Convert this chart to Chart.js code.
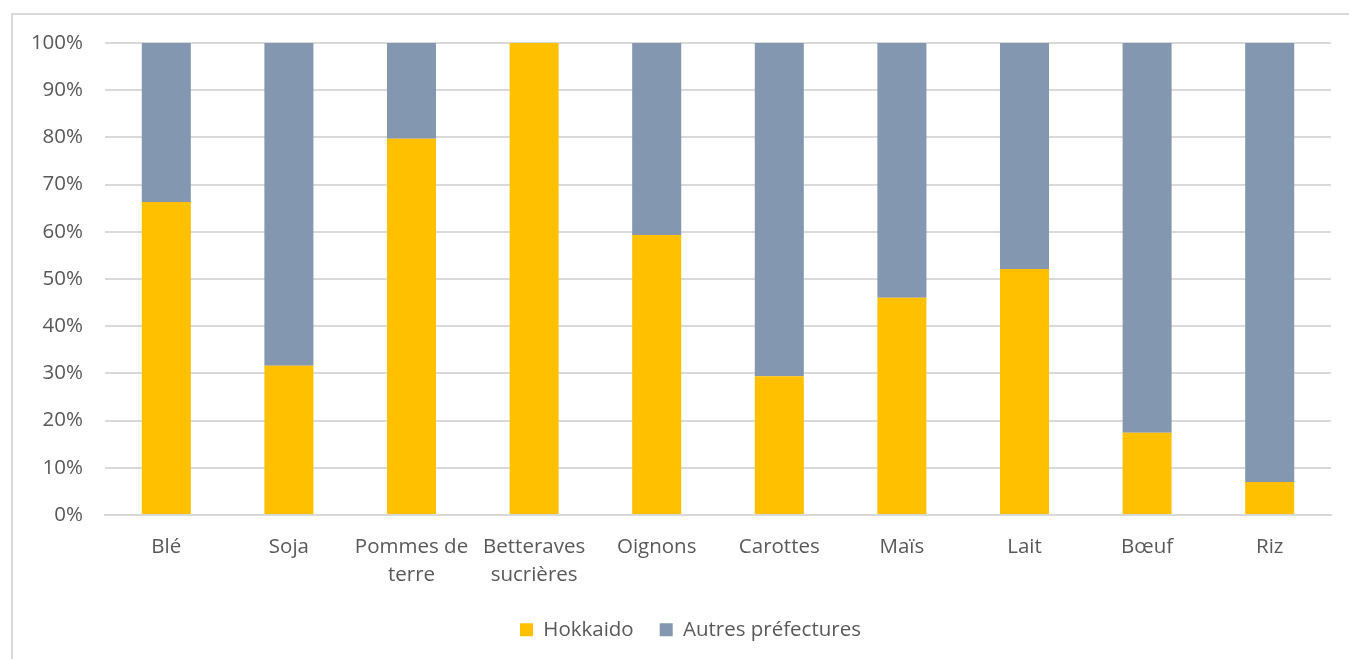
<!DOCTYPE html>
<html lang="fr">
<head>
<meta charset="UTF-8">
<title>Hokkaido - part de la production</title>
<script src="https://cdn.jsdelivr.net/npm/chart.js"></script>
<style>
  html, body { margin: 0; padding: 0; background: #fff; overflow: hidden; }
  #cadre {
    position: absolute; left: 11px; top: 13px; width: 1400px; height: 700px;
    border-left: 2px solid #d9d9d9; border-top: 2px solid #d9d9d9;
  }
  #zone { position: absolute; left: 0; top: 0; width: 1380px; height: 659px; }
</style>
</head>
<body>
<div id="cadre"></div>
<div id="zone"><canvas id="graphique"></canvas></div>
<script>
// Catégories (étiquettes sur deux lignes quand il le faut)
const produits = ['Blé', 'Soja', ['Pommes de', 'terre'], ['Betteraves', 'sucrières'],
  'Oignons', 'Carottes', 'Maïs', 'Lait', 'Bœuf', 'Riz'];

// Parts en %
const hokkaido = [66.3, 31.6, 79.7, 100, 59.3, 29.4, 46.0, 52.1, 17.4, 7.0];
const autres   = [33.7, 68.4, 20.3, 0, 40.7, 70.6, 54.0, 47.9, 82.6, 93.0];

const police = { family: "'Open Sans', sans-serif", size: 20.5, lineHeight: 1.38 };

// la légende d'Excel est centrée un peu plus à droite
const decalerLegende = {
  id: 'decalerLegende',
  afterLayout(chart) {
    chart.legend.left += 25;
    chart.legend.right += 25;
  }
};

new Chart(document.getElementById('graphique'), {
  type: 'bar',
  data: {
    labels: produits,
    datasets: [
      { label: 'Hokkaido', data: hokkaido, backgroundColor: '#FFC000' },
      { label: 'Autres préfectures', data: autres, backgroundColor: '#8497B0' }
    ]
  },
  options: {
    responsive: true,
    maintainAspectRatio: false,
    animation: false,
    datasets: { bar: { categoryPercentage: 1, barPercentage: 0.4 } },
    layout: { padding: { top: 43, right: 49, left: 0, bottom: 9 } },
    scales: {
      x: {
        stacked: true,
        grid: { display: false, drawTicks: false },
        border: { display: true, color: '#d9d9d9', width: 2 },
        ticks: { color: '#595959', font: police, padding: 18, maxRotation: 0, autoSkip: false },
        afterFit: s => { s.height -= 14; }
      },
      y: {
        stacked: true,
        min: 0, max: 100,
        grid: { color: '#d9d9d9', lineWidth: 2, drawTicks: false },
        border: { display: false },
        ticks: { stepSize: 10, color: '#595959', font: police, padding: 22,
          callback: v => v + '%' },
        afterFit: s => { s.width = 105; }
      }
    },
    plugins: {
      legend: {
        position: 'bottom',
        labels: { color: '#595959', font: police, boxWidth: 13, boxHeight: 13, padding: 26 }
      },
      tooltip: { enabled: false }
    }
  },
  plugins: [decalerLegende]
});
</script>
</body>
</html>
